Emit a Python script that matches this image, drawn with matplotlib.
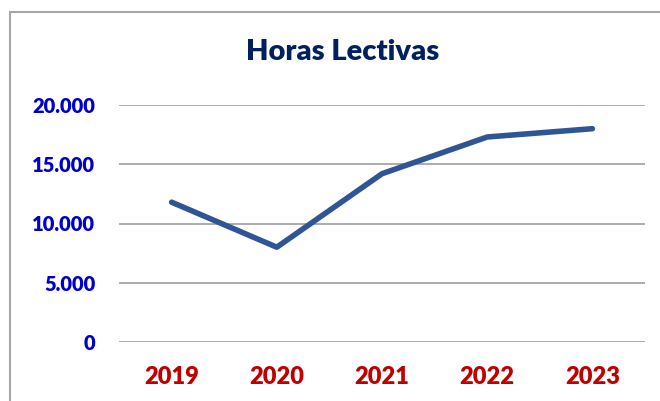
import numpy as np
from matplotlib import pyplot as plt
from matplotlib.patches import Rectangle
from matplotlib.ticker import FuncFormatter

years = ["2019", "2020", "2021", "2022", "2023"]
horas = [11800, 8000, 14200, 17300, 18000]
yticks = [0, 5000, 10000, 15000, 20000]

plt.rcParams['font.family'] = ['Lato', 'DejaVu Sans']

fig = plt.figure(figsize=(6.6, 4.01), dpi=100)
ax = fig.add_axes([119 / 660, 1 - 342 / 401, 526 / 660, 237 / 401])

x = np.arange(len(years))
ax.plot(x, horas, color="#2f5597", lw=4, solid_capstyle="round", solid_joinstyle="round")

ax.set_xlim(-0.5, len(years) - 0.5)
ax.set_ylim(0, 20000)
ax.set_yticks(yticks)
ax.yaxis.set_major_formatter(FuncFormatter(lambda v, p: f"{int(v):,}".replace(",", ".")))
ax.set_xticks(x)
ax.set_xticklabels(years)
ax.grid(axis="y", color="#a6a6a6", lw=1.3)
ax.set_axisbelow(True)
for s in ax.spines.values():
    s.set_visible(False)
ax.tick_params(length=0)
ax.tick_params(axis="y", pad=17, labelcolor="#0000cc", labelsize=14.5)
ax.tick_params(axis="x", pad=17, labelcolor="#c00000", labelsize=17)
for lab in ax.get_xticklabels() + ax.get_yticklabels():
    lab.set_fontweight("heavy")

fig.text(343 / 660, 1 - 52 / 401, "Horas Lectivas", ha="center", va="center",
         fontsize=21, fontweight="heavy", color="#002060")

# chart border (cropped at right and bottom)
fig.patches.append(Rectangle((10 / 660, -0.1), 1.2, 1 - 12 / 401 + 0.1,
                             transform=fig.transFigure, fill=False,
                             edgecolor="#a6a6a6", lw=1.5))

fig.savefig("out.png", dpi=100)
